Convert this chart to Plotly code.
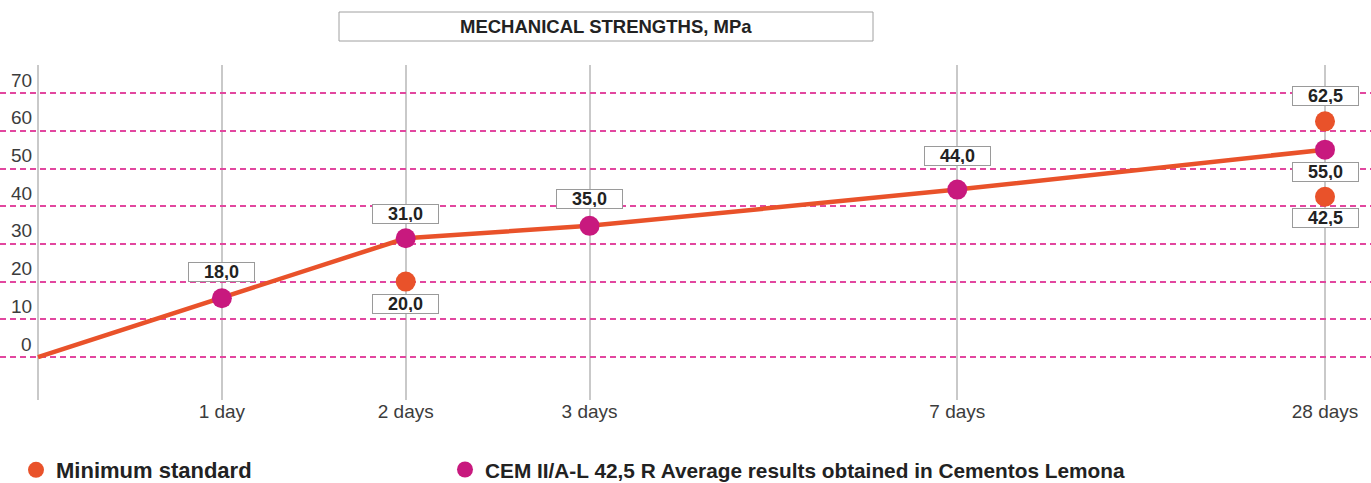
import plotly.graph_objects as go

# ---- data ----
age_pos = [0, 1, 2, 3, 5, 7]              # category positions on the age axis
age_labels = ["", "1 day", "2 days", "3 days", "7 days", "28 days"]

avg_x = [1, 2, 3, 5, 7]
avg_y = [15.6, 31.5, 34.8, 44.4, 55.0]     # as drawn
avg_text = ["18,0", "31,0", "35,0", "44,0", "55,0"]

curve_x = [0, 1, 2, 3, 5, 7]
curve_y = [0, 15.6, 31.5, 34.8, 44.4, 55.0]

min_x = [2, 7, 7]
min_y = [20.0, 42.5, 62.5]
min_text = ["20,0", "42,5", "62,5"]

y_ticks = [0, 10, 20, 30, 40, 50, 60, 70]

title_text = "MECHANICAL STRENGTHS, MPa"
name_min = "Minimum standard"
name_avg = "CEM II/A-L 42,5 R Average results obtained in Cementos Lemona"

# ---- style ----
ORANGE = "#E9522A"
MAGENTA = "#C8197E"
PINK = "#E2479F"
GRID = "#C9C9C9"
W, H = 1371, 483
ML, MR, MT, MB = 0, 0, 65, 83
PH = H - MT - MB

avg_shift = [26, 24, 27, 34, -22]
min_shift = [-22, -21, 25]

fig = go.Figure()
fig.add_trace(go.Scatter(x=curve_x, y=curve_y, mode="lines",
                         line=dict(color=ORANGE, width=4.5),
                         showlegend=False, hoverinfo="skip"))
fig.add_trace(go.Scatter(x=min_x, y=min_y, mode="markers", name="<b>%s</b>" % name_min,
                         marker=dict(color=ORANGE, size=20), legend="legend"))
fig.add_trace(go.Scatter(x=avg_x, y=avg_y, mode="markers", name="<b>%s</b>" % name_avg,
                         marker=dict(color=MAGENTA, size=20), legend="legend2"))

annotations = []
box = dict(bgcolor="white", bordercolor="#9a9a9a", borderwidth=1, borderpad=1,
           width=63, height=16, showarrow=False,
           font=dict(family="Liberation Sans", size=18, color="#222"))
for x, y, t, s in zip(avg_x, avg_y, avg_text, avg_shift):
    annotations.append(dict(x=x, y=y, text="<b>%s</b>" % t, yshift=s, **box))
for x, y, t, s in zip(min_x, min_y, min_text, min_shift):
    annotations.append(dict(x=x, y=y, text="<b>%s</b>" % t, yshift=s, **box))

for v in y_ticks:
    annotations.append(dict(x=34 / W, xref="paper", y=v, yref="y", xanchor="right",
                            yanchor="middle", yshift=13, showarrow=False,
                            text=str(v),
                            font=dict(family="Liberation Sans", size=19, color="#3c3c3c")))

annotations.append(dict(x=606 / W, xref="paper", y=(PH + MT - 26.5) / PH, yref="paper",
                        xanchor="center", yanchor="middle", showarrow=False,
                        text="<b>%s</b>" % title_text,
                        font=dict(family="Liberation Sans", size=18.5, color="#222")))

shapes = [dict(type="rect", xref="paper", yref="paper",
               x0=339 / W, x1=873 / W, y0=(PH + MT - 41) / PH, y1=(PH + MT - 12) / PH,
               line=dict(color="#a0a0a0", width=1), fillcolor="rgba(0,0,0,0)")]

leg_common = dict(orientation="h", xref="container", yref="container", xanchor="left",
                  y=(H - 470) / H, yanchor="middle",
                  itemsizing="trace", bgcolor="rgba(0,0,0,0)", borderwidth=0)

fig.update_layout(
    width=W, height=H,
    margin=dict(l=ML, r=MR, t=MT, b=MB, autoexpand=False),
    paper_bgcolor="white", plot_bgcolor="white",
    annotations=annotations, shapes=shapes,
    showlegend=True,
    legend=dict(x=16 / W, font=dict(family="Liberation Sans", size=22, color="#222"), **leg_common),
    legend2=dict(x=445 / W, font=dict(family="Liberation Sans", size=20.8, color="#222"), **leg_common),
    font=dict(family="Liberation Sans"),
)
fig.update_xaxes(range=[-38 / 183.86, 7 + 46 / 183.86], tickvals=age_pos, ticktext=age_labels,
                 showgrid=True, gridcolor=GRID, gridwidth=1.5, zeroline=False,
                 showline=False, ticks="", automargin=False, ticklabelstandoff=-2,
                 tickfont=dict(family="Liberation Sans", size=19, color="#3c3c3c"))
fig.update_yaxes(range=[-11.4, 77.45], tickvals=y_ticks, showticklabels=False,
                 showgrid=True, gridcolor=PINK, gridwidth=2, griddash="6px,4px",
                 zeroline=False, showline=False, ticks="", automargin=False)

fig.write_html("out.html", config={"displayModeBar": False},
               post_script="document.body.style.margin='0';document.body.style.overflow='hidden';")
